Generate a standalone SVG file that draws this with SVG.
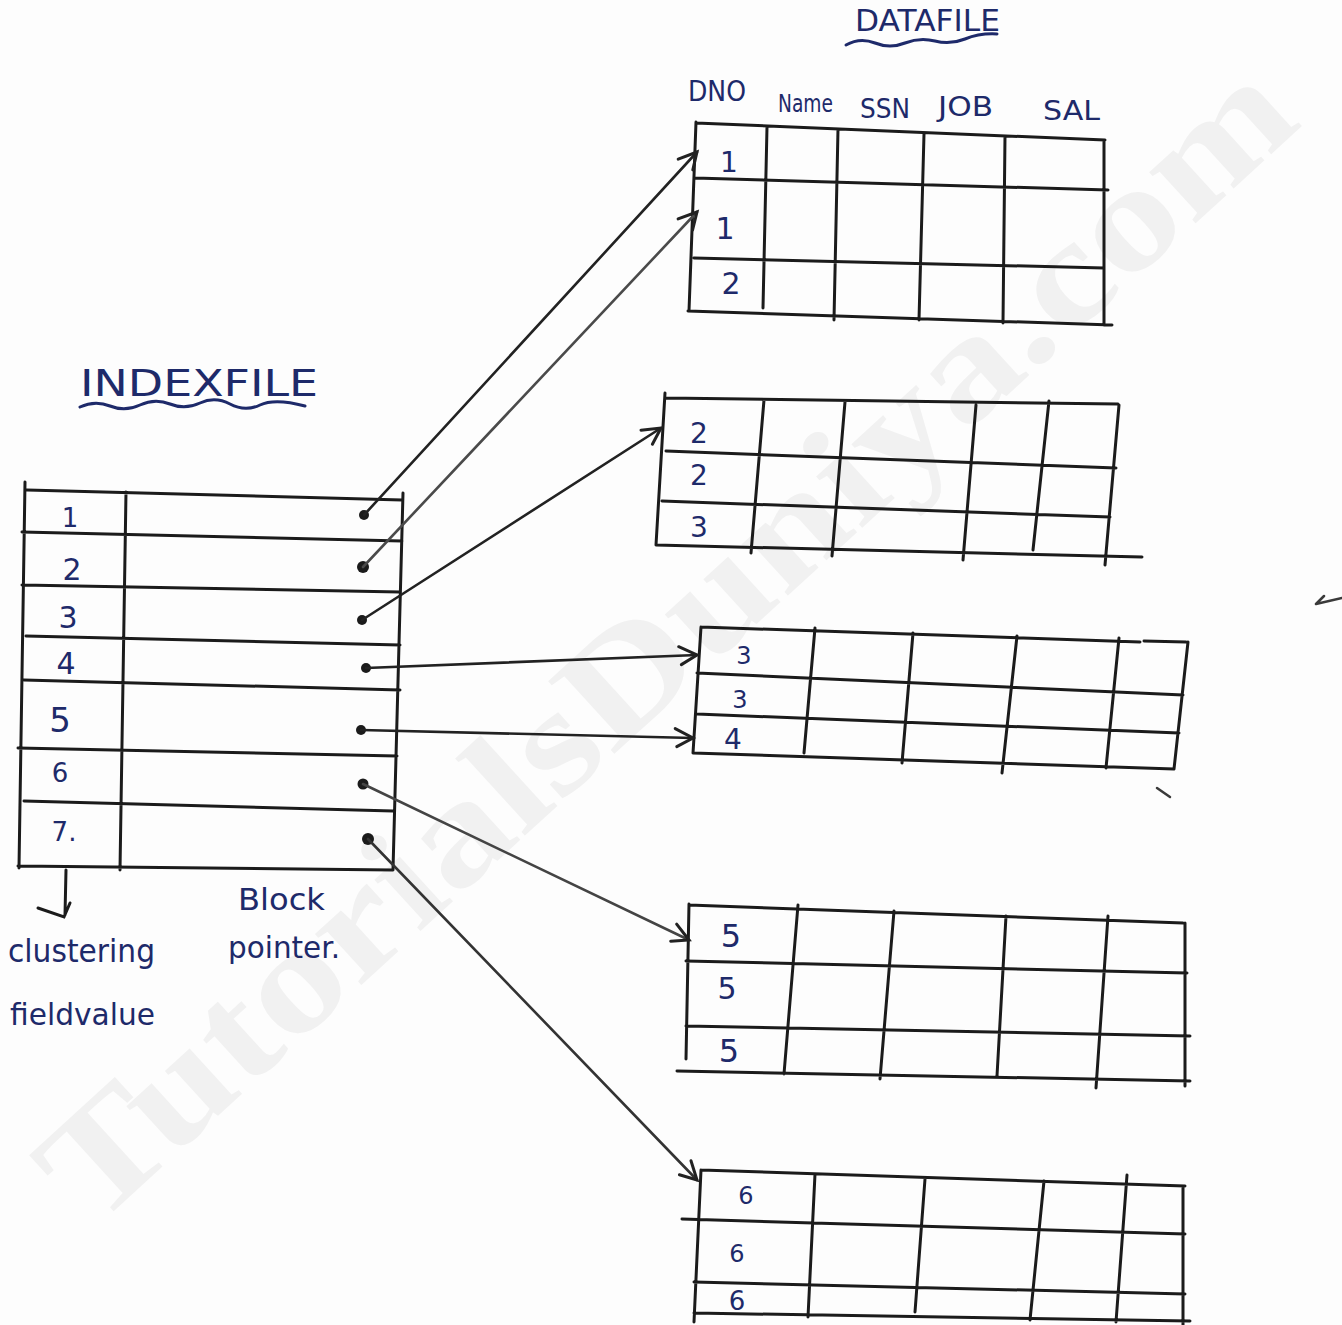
<svg xmlns="http://www.w3.org/2000/svg" width="1342" height="1325" viewBox="0 0 1342 1325">
<style>
.bg{fill:#fdfdfd}
.wm{font-family:"Liberation Serif",serif;font-weight:bold;fill:#f1f1f1}
.g{fill:none;stroke:#1b1b1b;stroke-width:3;stroke-linecap:round}
.gl{fill:none;stroke:#3a3a3a;stroke-width:2.5;stroke-linecap:round}
.t{font-family:"DejaVu Sans","Liberation Sans",sans-serif;fill:#1e2a6a}
.c{fill:none;stroke:#222;stroke-width:2.6;stroke-linecap:round}
.dot{fill:#1b1b1b}
.u{fill:none;stroke:#1e2a6a;stroke-width:3;stroke-linecap:round}
</style>
<defs>
<marker id="ah" viewBox="-22 -12 26 24" refX="0" refY="0" markerWidth="26" markerHeight="24" markerUnits="userSpaceOnUse" orient="auto">
<path d="M-18,-9 L0,0 L-16,9" fill="none" stroke="#222" stroke-width="3" stroke-linecap="round"/>
</marker>
</defs>
<rect class="bg" x="0" y="0" width="1342" height="1325"/>
<text class="wm" x="665" y="690" font-size="150" text-anchor="middle" textLength="1640" lengthAdjust="spacingAndGlyphs" transform="rotate(-42.4 665 640)">TutorialsDuniya.com</text>

<g id="title-datafile">
<text class="t" x="855" y="31" font-size="30" textLength="145" lengthAdjust="spacingAndGlyphs">DATAFILE</text>
<path class="u" d="M846,45 Q860,37 875,43 T905,43 T935,41 T965,39 T997,34"/>
</g>
<g id="title-indexfile">
<text class="t" x="80" y="396" font-size="38" textLength="238" lengthAdjust="spacingAndGlyphs">INDEXFILE</text>
<path class="u" d="M80,407 Q95,400 110,406 T140,405 T170,404 T200,403 T230,404 T260,405 T305,406"/>
</g>

<g id="index-table">
<path class="g" d="M25,482 L19,868 M27,490 L402,500 M403,493 L393,870 M126,492 L120,870 M22,532 L402,541 M22,585 L400,592 M26,636 L400,645 M24,680 L400,690 M18,748 L397,756 M24,801 L393,811 M18,866 L393,870"/>
<text class="t" x="70" y="527" font-size="26" text-anchor="middle">1</text>
<text class="t" x="72" y="580" font-size="30" text-anchor="middle">2</text>
<text class="t" x="68" y="628" font-size="30" text-anchor="middle">3</text>
<text class="t" x="66" y="674" font-size="30" text-anchor="middle">4</text>
<text class="t" x="60" y="732" font-size="34" text-anchor="middle">5</text>
<text class="t" x="60" y="782" font-size="26" text-anchor="middle">6</text>
<text class="t" x="64" y="841" font-size="26" text-anchor="middle">7.</text>
<circle class="dot" cx="364" cy="515" r="5"/>
<circle class="dot" cx="363" cy="567" r="6"/>
<circle class="dot" cx="362" cy="620" r="5"/>
<circle class="dot" cx="366" cy="668" r="5"/>
<circle class="dot" cx="361" cy="730" r="5"/>
<circle class="dot" cx="363" cy="784" r="5.5"/>
<circle class="dot" cx="368" cy="839" r="6"/>
</g>

<g id="index-labels">
<path class="g" d="M66,870 L65,915 M38,908 L64,917 L70,903"/>
<text class="t" x="8" y="962" font-size="32" textLength="147" lengthAdjust="spacingAndGlyphs">clustering</text>
<text class="t" x="10" y="1025" font-size="30" textLength="145" lengthAdjust="spacingAndGlyphs">fieldvalue</text>
<text class="t" x="238" y="910" font-size="30" textLength="87" lengthAdjust="spacingAndGlyphs">Block</text>
<text class="t" x="228" y="958" font-size="30" textLength="112" lengthAdjust="spacingAndGlyphs">pointer.</text>
</g>

<g id="data-block-1">
<text class="t" x="688" y="101" font-size="28" textLength="58" lengthAdjust="spacingAndGlyphs">DNO</text>
<text class="t" x="778" y="112" font-size="24" textLength="55" lengthAdjust="spacingAndGlyphs">Name</text>
<text class="t" x="860" y="118" font-size="26" textLength="50" lengthAdjust="spacingAndGlyphs">SSN</text>
<text class="t" x="938" y="116" font-size="26" textLength="55" lengthAdjust="spacingAndGlyphs">JOB</text>
<text class="t" x="1043" y="120" font-size="26" textLength="57" lengthAdjust="spacingAndGlyphs">SAL</text>
<path class="g" d="M696,122 L689,311 M696,123 L1105,140 M695,178 L1108,190 M694,258 L1104,268 M688,311 L1112,325 M767,127 L763,308 M838,129 L834,320 M924,134 L919,320 M1005,136 L1003,323 M1104,140 L1104,325"/>
<text class="t" x="729" y="172" font-size="28" text-anchor="middle">1</text>
<text class="t" x="725" y="239" font-size="30" text-anchor="middle">1</text>
<text class="t" x="731" y="294" font-size="30" text-anchor="middle">2</text>
</g>

<g id="data-block-2">
<path class="g" d="M665,393 L656,545 M666,398 L1118,404 M666,451 L1116,468 M662,501 L1110,517 M656,545 L1142,557 M764,400 L751,553 M845,402 L832,556 M976,405 L963,560 M1049,401 L1033,550 M1119,405 L1105,565"/>
<text class="t" x="699" y="443" font-size="28" text-anchor="middle">2</text>
<text class="t" x="699" y="485" font-size="28" text-anchor="middle">2</text>
<text class="t" x="699" y="537" font-size="28" text-anchor="middle">3</text>
</g>

<g id="data-block-3">
<path class="g" d="M701,627 L693,753 M701,627 L1140,642 M1144,641 L1186,642 M697,673 L1183,695 M697,714 L1179,733 M693,753 L1174,769 M815,628 L804,753 M913,633 L902,763 M1017,636 L1002,773 M1119,638 L1106,768 M1188,642 L1174,769"/>
<text class="t" x="744" y="664" font-size="24" text-anchor="middle">3</text>
<text class="t" x="740" y="708" font-size="24" text-anchor="middle">3</text>
<text class="t" x="733" y="749" font-size="28" text-anchor="middle">4</text>
</g>

<g id="data-block-4">
<path class="g" d="M689,904 L686,1059 M689,905 L1183,923 M686,961 L1187,973 M686,1026 L1190,1036 M677,1071 L1190,1081 M798,905 L784,1074 M894,911 L880,1079 M1006,916 L997,1076 M1108,916 L1096,1088 M1185,923 L1185,1086"/>
<text class="t" x="731" y="947" font-size="32" text-anchor="middle">5</text>
<text class="t" x="727" y="999" font-size="30" text-anchor="middle">5</text>
<text class="t" x="729" y="1062" font-size="32" text-anchor="middle">5</text>
</g>

<g id="data-block-5">
<path class="g" d="M701,1170 L694,1322 M701,1170 L1185,1186 M682,1219 L1185,1234 M694,1282 L1185,1294 M694,1313 L1190,1321 M815,1174 L808,1317 M925,1179 L915,1312 M1044,1181 L1030,1320 M1127,1175 L1116,1322 M1183,1188 L1183,1325"/>
<text class="t" x="746" y="1204" font-size="24" text-anchor="middle">6</text>
<text class="t" x="737" y="1262" font-size="24" text-anchor="middle">6</text>
<text class="t" x="737" y="1310" font-size="26" text-anchor="middle">6</text>
</g>

<g id="connectors">
<path class="c" d="M364,515 L697,152" marker-end="url(#ah)"/>
<path class="c" d="M363,567 L697,212" marker-end="url(#ah)" style="stroke:#4a4a4a"/>
<path class="c" d="M362,620 L661,428" marker-end="url(#ah)"/>
<path class="c" d="M366,668 L697,655" marker-end="url(#ah)"/>
<path class="c" d="M361,730 L693,738" marker-end="url(#ah)"/>
<path class="c" d="M363,784 L689,940" marker-end="url(#ah)" style="stroke:#444"/>
<path class="c" d="M368,839 L697,1180" marker-end="url(#ah)" style="stroke:#333"/>
</g>

<g id="stray-marks">
<path class="gl" d="M1316,604 L1342,598 M1316,604 L1324,596"/>
<path class="gl" d="M1157,788 L1170,797"/>
</g>
</svg>
